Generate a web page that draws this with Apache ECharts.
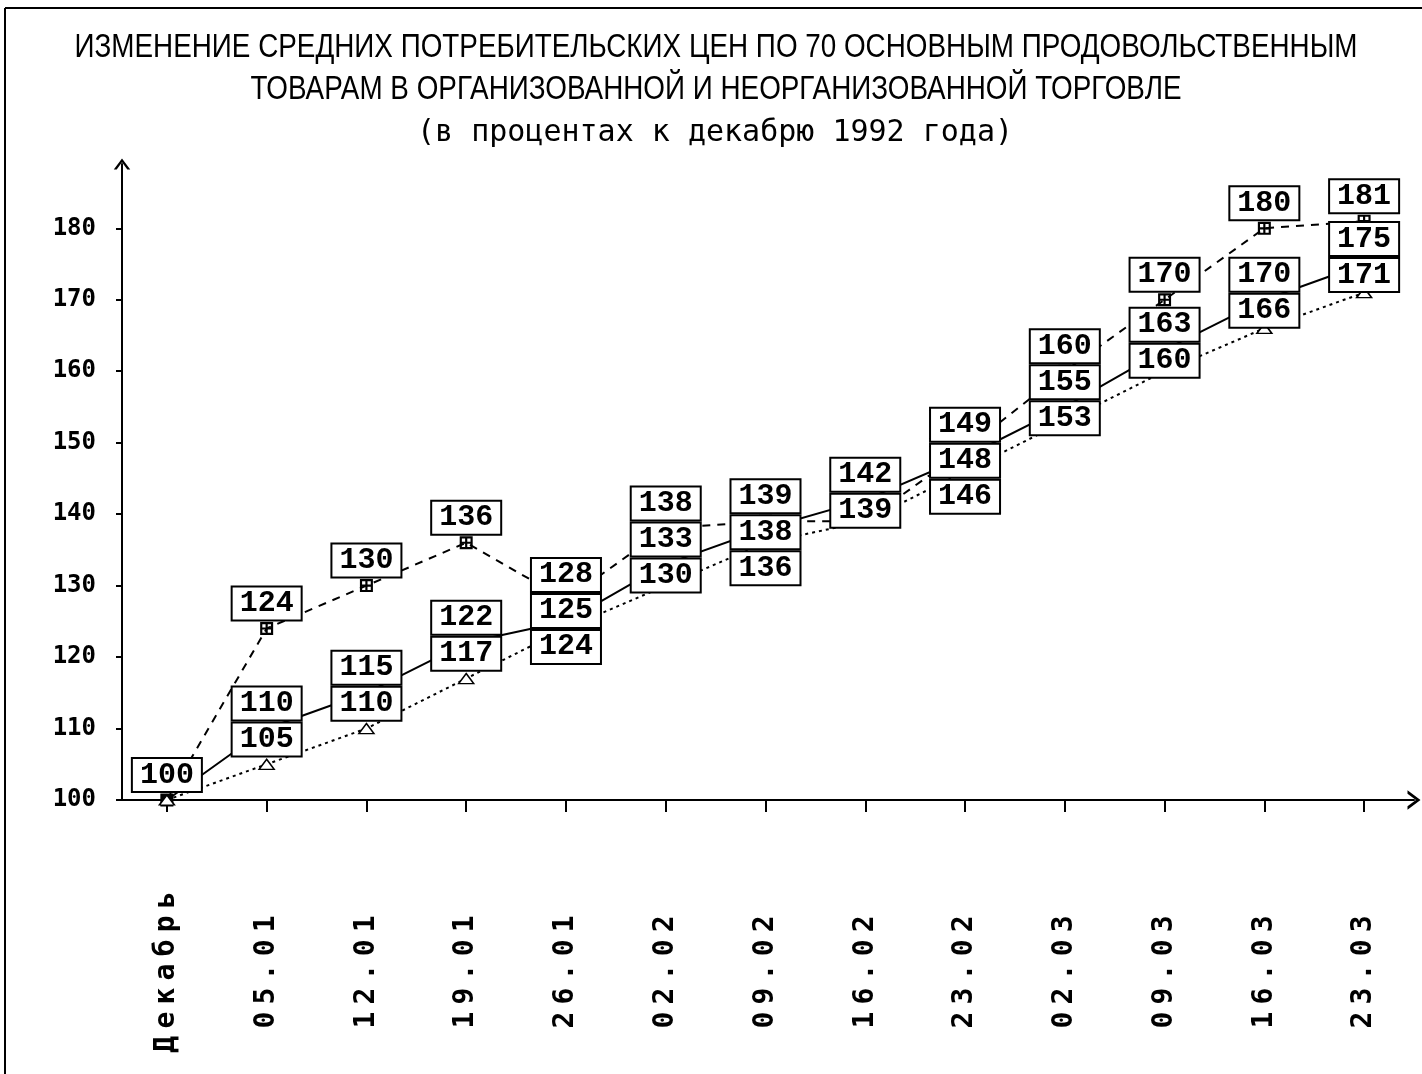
<!DOCTYPE html>
<html><head><meta charset="utf-8">
<script src="https://cdn.jsdelivr.net/npm/echarts@6/dist/echarts.min.js"></script>
<style>html,body{margin:0;padding:0;background:#fff}#c{width:1422px;height:1074px}</style>
</head><body><div id="c"></div>
<script>
// ---- data ----
const categories = ['Декабрь','05.01','12.01','19.01','26.01','02.02','09.02','16.02','23.02','02.03','09.03','16.03','23.03'];
const seriesDashed = [100,124,130,136,128,138,139,139,149,160,170,180,181];
const seriesSolid  = [100,110,115,122,125,133,138,142,148,155,163,170,175];
const seriesDotted = [100,105,110,117,124,130,136,139,146,153,160,166,171];
const seriesNames = ['Ряд 1','Ряд 2','Ряд 3'];
const titleLines = [
  'ИЗМЕНЕНИЕ СРЕДНИХ ПОТРЕБИТЕЛЬСКИХ ЦЕН ПО 70 ОСНОВНЫМ ПРОДОВОЛЬСТВЕННЫМ',
  'ТОВАРАМ В ОРГАНИЗОВАННОЙ И НЕОРГАНИЗОВАННОЙ ТОРГОВЛЕ',
  '(в процентах к декабрю 1992 года)'
];

const allSeries = [seriesDashed, seriesSolid, seriesDotted];
const chart = echarts.init(document.getElementById('c'), null, {renderer:'canvas'});

// title font: condensed by horizontal scaling to the reference width
const TITLE_FONT = '33px "Liberation Sans"';
const mctx = document.createElement('canvas').getContext('2d');
mctx.font = TITLE_FONT;
const w1 = mctx.measureText(titleLines[0]).width || 1500;
const titleScaleX = Math.min(1, 1283 / w1);

// a label is shown unless an earlier series has the same value at that point
function labelShown(k, i){
  for (let j = 0; j < k; j++) if (allSeries[j][i] === allSeries[k][i]) return false;
  return true;
}
const LABEL_RAISE = 25;
function yPix(v, fallbackY, selfV){
  try { const p = chart.convertToPixel({yAxisIndex:0}, v); if (isFinite(p)) return p; } catch(e){}
  return fallbackY + (selfV - v) * 7.15;
}
function stackLayout(params){
  const k = params.seriesIndex - 3, i = params.dataIndex;
  const h = params.labelRect.height;
  const cx = params.rect.x + params.rect.width/2;
  const cy = params.rect.y + params.rect.height/2;
  const items = [];
  for (let j = 0; j < 3; j++) if (labelShown(j, i)) items.push({j, v: allSeries[j][i]});
  items.sort((a,b)=> (b.v - a.v) || (a.j - b.j));
  let prevBottom = -Infinity, res = cy - LABEL_RAISE;
  for (const it of items){
    let c = yPix(it.v, cy, allSeries[k][i]) - LABEL_RAISE;
    if (c - h/2 < prevBottom) c = prevBottom + h/2;
    prevBottom = c + h/2;
    if (it.j === k) res = c;
  }
  return {x: cx, y: res, align: 'center', verticalAlign: 'middle'};
}

const crossBox = 'path://M0,0H12V2H0Z M0,10H12V12H0Z M0,0H2V12H0Z M10,0H12V12H10Z M5,0H7V12H5Z M0,5H12V7H0Z';
const chevron = 'path://M0,12 L9,0 L18,12 L14.8,12 L9,4.2 L3.2,12 Z';

const lineDefs = [
  {type:[8,7], symbol: crossBox, symbolSize:13, item:{color:'#000'}},
  {type:'solid', symbol:'rect', symbolSize:[12,12], item:{color:'#000'}},
  {type:[3,4], symbol:'triangle', symbolSize:[15,10], item:{color:'#fff', borderColor:'#000', borderWidth:1.5}}
];

const series = [];
allSeries.forEach((vals, k) => {
  series.push({
    name: seriesNames[k], type:'line', data: vals, z: 2,
    symbol: lineDefs[k].symbol, symbolSize: lineDefs[k].symbolSize, showAllSymbol: true,
    itemStyle: lineDefs[k].item,
    lineStyle: {color:'#000', width:2, type: lineDefs[k].type},
    label: {show:false}, animation:false
  });
});
allSeries.forEach((vals, k) => {
  series.push({
    name: seriesNames[k] + ' подписи', type:'scatter', z: 5,
    data: vals.map((v, i) => ({value: v, label: {show: labelShown(k, i)}})),
    symbol:'circle', symbolSize: 1, itemStyle:{color:'rgba(0,0,0,0)', opacity:1},
    label: {
      show:true, position:'top', formatter: p => String(p.value), opacity:1,
      fontFamily:'Liberation Mono, Courier New, monospace', fontWeight:'bold', fontSize:30,
      color:'#000', backgroundColor:'#fff', borderColor:'#000', borderWidth:2,
      padding:[3,7,1,7], lineHeight:28
    },
    labelLayout: stackLayout,
    emphasis:{disabled:true},
    animation:false, silent:true
  });
});

const option = {
  backgroundColor:'#fff',
  animation:false,
  grid:{left:117, right:8, top:164, bottom:274, containLabel:false},
  xAxis:{
    type:'category', data: categories, boundaryGap:true,
    axisLine:{show:true, symbol:['none', chevron], symbolSize:[24,13], lineStyle:{color:'#000', width:2}},
    axisTick:{show:true, alignWithLabel:true, length:12, lineStyle:{color:'#000', width:2}},
    axisLabel:{
      interval:0, rotate:90, align:'center', margin:172,
      fontFamily:'DejaVu Sans Mono, monospace', fontWeight:'bold', fontSize:28, color:'#000',
      formatter: v => v.split('').join('{s| }'),
      rich:{ s:{fontSize:12, fontFamily:'DejaVu Sans Mono, monospace'} }
    },
    splitLine:{show:false}
  },
  yAxis:{
    type:'value', min:100, max:189, interval:10, offset:-5,
    axisLine:{show:true, symbol:['none', chevron], symbolSize:[18,11], lineStyle:{color:'#000', width:2}},
    axisTick:{show:true, length:6, lineStyle:{color:'#000', width:2}},
    axisLabel:{margin:26, showMaxLabel:false, fontFamily:'DejaVu Sans Mono, monospace', fontWeight:'bold', fontSize:24, color:'#000'},
    splitLine:{show:false}
  },
  graphic:[
    {type:'line', shape:{x1:5, y1:8, x2:1422, y2:8}, style:{stroke:'#000', lineWidth:2}},
    {type:'line', shape:{x1:5, y1:8, x2:5, y2:1074}, style:{stroke:'#000', lineWidth:2}},
    {type:'text', x:716, y:48, scaleX:titleScaleX, style:{text:titleLines[0], textAlign:'center', textVerticalAlign:'middle', font:TITLE_FONT, fill:'#000'}},
    {type:'text', x:716, y:90, scaleX:titleScaleX, style:{text:titleLines[1], textAlign:'center', textVerticalAlign:'middle', font:TITLE_FONT, fill:'#000'}},
    {type:'text', x:715, y:133, style:{text:titleLines[2], textAlign:'center', textVerticalAlign:'middle', fontFamily:'DejaVu Sans Mono, monospace', fontSize:30, fill:'#000'}}
  ],
  series: series
};
chart.setOption(option);
</script></body></html>
